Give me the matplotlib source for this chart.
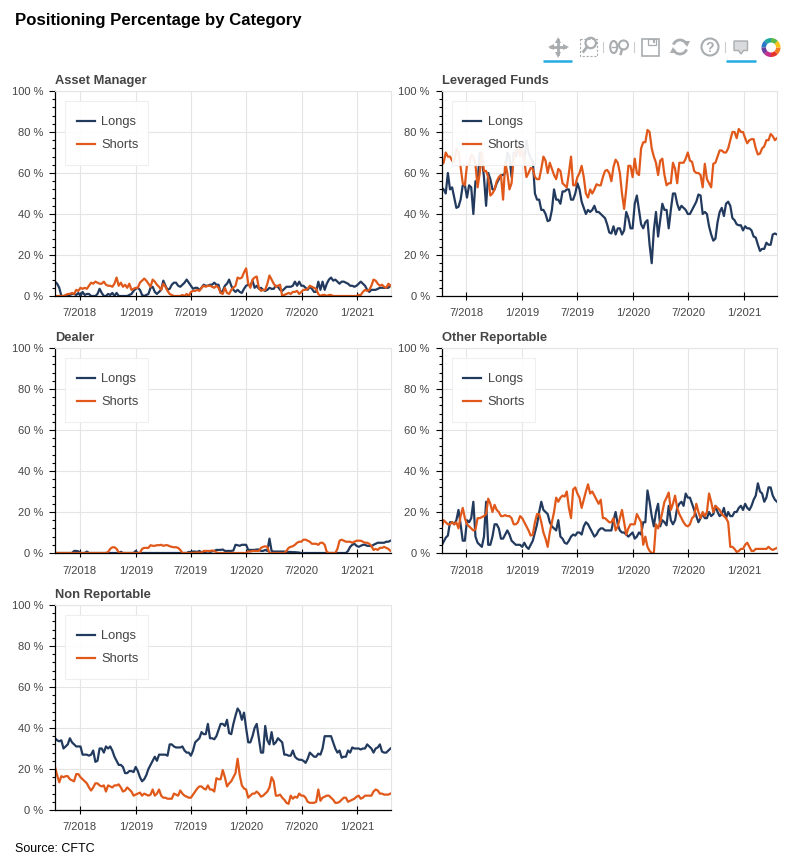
import matplotlib
matplotlib.use('Agg')
import matplotlib.pyplot as plt
import matplotlib.patches as mpatches
import pandas as pd

plt.rcParams['font.family'] = ['Liberation Sans', 'DejaVu Sans']

# weekly values, ten to a row
asset_longs = [
    7, 6, 4, 0, 0, 0, 0, 0.5, 1, 1,
    0.5, 1.5, 0, 2, 0.5, 1, 1, 0, 0, 0,
    1, 3.5, 1.5, 0, 0, 1, 0.5, 1.5, 0, 1.5,
    0, 0, 0, 0, 0, 0.5, 1, 2.5, 3.5, 4,
    3, 0.5, 0, 0.5, 1, 4, 4.5, 2, 1, 2,
    3, 7.5, 5, 3, 3.5, 5.5, 6.5, 6.5, 5, 4.5,
    5.5, 6.5, 8, 6.5, 5, 3.5, 4, 4, 3, 4,
    5.5, 5, 5, 5.5, 5.5, 6.5, 5.5, 5.5, 1.5, 2.5,
    5, 6, 8, 5, 3, 2, 3, 2, 1.5, 3.5,
    5, 5.5, 5, 7.5, 4, 5, 3.5, 4, 3, 2.5,
    3, 4, 3.5, 3.5, 5, 4.5, 3, 2.5, 3.5, 4.5,
    4.5, 4.5, 5, 7, 5, 7, 5, 5, 4, 3,
    4.5, 3.5, 2, 2, 7, 3, 7, 3, 6, 8,
    9, 7.5, 8, 7, 6, 7, 7, 6.5, 6, 5,
    5, 4.5, 5, 6, 7, 6, 5, 3, 2, 3,
    3, 3, 3.5, 4, 4, 4, 4, 4, 5]
asset_shorts = [
    0, 0, 0, 0, 0, 0.5, 1, 1, 1.5, 1,
    3, 2.5, 4, 3.5, 4, 3.5, 5, 6.5, 6, 7,
    6.5, 6, 6, 7, 5.5, 5, 5, 4.5, 6, 9,
    5, 6.5, 4.5, 5.5, 4, 6, 3, 3.5, 4, 4,
    6.5, 7.5, 8.5, 7.5, 6, 4.5, 8, 7, 5.5, 4.5,
    3, 6, 4.5, 2.5, 1, 0.5, 0, 0, 0, 0,
    0.5, 0, 1, 0, 2, 2.5, 2.5, 3, 2.5, 4,
    5, 4.5, 5, 5, 4.5, 4, 5, 4, 1.5, 1,
    4, 1.5, 1, 3, 4, 5, 9, 8.5, 9, 11.5,
    13.5, 6, 4, 8, 9, 9.5, 4, 2.5, 3, 3,
    6, 10, 8, 6, 4.5, 5, 5.5, 0, 0.5, 1,
    1.5, 1, 2, 2, 2.5, 1, 2, 3, 3, 3.5,
    5, 4.5, 4, 3.5, 1, 0, 0.5, 0.5, 0, 0.5,
    0.5, 0, 0, 0, 0, 0, 0, 0, 0, 0,
    0, 0, 0, 0.5, 0.5, 2, 3, 2.5, 3, 5,
    8, 7.5, 6, 5, 5.5, 4.5, 4, 6, 5]

leveraged_longs = [
    53, 52, 50, 60, 52, 53, 48, 43, 43.5, 47,
    54, 54, 48, 54, 53, 40, 56, 55, 70, 67,
    58, 44, 60, 57, 52, 52, 55, 57, 59, 59,
    60, 70, 68, 58, 70, 68, 72, 74, 70, 66,
    76, 70, 67, 66, 50, 47, 47, 42, 42, 40,
    36.5, 37, 42, 52, 47, 47, 45, 51, 51, 52,
    52, 47, 47, 50, 55, 52, 46, 43, 40, 42,
    41, 42, 44, 41, 41, 40, 39, 38, 35, 31,
    30.5, 34, 30, 33, 33, 30, 32, 41, 38, 33,
    33, 45, 49, 42, 35, 33, 36, 37, 25, 16,
    32, 41, 29, 37, 45, 42, 42, 33, 42, 50,
    50, 45, 42, 44, 43, 42, 40, 40, 42, 44,
    46, 49.5, 49, 40, 41, 40, 34, 30, 27, 28,
    36, 41, 43, 39, 45, 46, 44, 38, 37, 35,
    34.5, 34.5, 32, 34, 33, 33, 32, 29, 28.5, 25,
    22, 23, 23, 26, 25, 25, 30, 30.5, 30]
leveraged_shorts = [
    64, 65, 70, 68, 68, 66, 65, 72, 70, 63,
    55, 54, 64, 64, 69, 68, 64, 53, 60, 70,
    61, 61, 58, 49, 50, 52, 56, 58, 59, 47,
    65, 60, 52, 55, 68, 70, 73, 68, 72, 66,
    58, 60, 62.5, 62, 58, 57, 57, 62, 68, 66,
    60, 65, 62, 59, 57, 62, 61, 55, 54, 53,
    60, 68, 54, 54, 58, 60, 63.5, 58, 50, 48,
    52, 50, 52, 54.5, 54, 54, 58, 61, 61.5, 60,
    56, 63, 66.5, 65, 60, 50, 42.5, 52, 63.5, 63.5,
    58, 67, 60, 59, 72, 75, 75, 81, 80, 72,
    68, 65, 59, 66, 67, 59, 54, 55, 55, 65,
    62, 55, 65, 65, 65, 67, 70, 66, 65.5, 61,
    60, 60, 59, 53, 64.5, 57, 55, 53, 64.5, 65,
    68, 71, 71, 70, 70, 72, 76, 80, 80, 77,
    81.5, 80, 80, 77, 74.5, 76, 76.5, 76.5, 72, 69,
    69.5, 72, 73, 76, 76, 79, 78, 76, 77]

dealer_longs = [
    0, 0, 0, 0, 0, 0, 0, 0, 0, 1,
    1, 0.8, 0, 0, 0, 0.7, 0, 0, 0, 0,
    0, 0, 0, 0, 0, 0, 0, 0, 0, 0,
    0, 0.6, 0, 0, 0, 0, 0, 0, 1, 0,
    0, 0, 0, 0, 0, 0, 0, 0, 0, 0,
    0, 0, 0, 0, 0, 0, 0, 0, 0, 0,
    0, 0, 0, 0.5, 0.5, 0.7, 0.7, 0.5, 1, 0.3,
    0.3, 0.5, 0.8, 0.5, 0.8, 1, 1.5, 1.5, 1.5, 1.7,
    1, 1, 1, 1, 1.2, 4, 3.8, 3.5, 4, 4,
    4, 1.5, 1.5, 1.5, 1.5, 1.7, 1.7, 1, 1, 1.5,
    1, 7, 1, 0.7, 0.7, 0.7, 0.7, 0.7, 0.7, 0.5,
    0.5, 0.5, 0.4, 0.4, 0.3, 0.2, 0, 0, 0, 0,
    0, 0, 0, 0, 0, 0, 0, 0, 0, 0,
    0, 0, 0, 0, 0, 0, 0, 0, 1, 3,
    4, 4.5, 3.5, 3, 3.5, 4, 4, 3.5, 3.5, 3.3,
    4, 4.5, 5, 5, 5, 5, 5.5, 5.5, 6]
dealer_shorts = [
    0, 0, 0, 0, 0, 0, 0, 0, 0, 0,
    0, 0, 0, 0, 0, 0, 0, 0, 0, 0,
    0, 0, 0, 0, 0, 0.5, 2, 2.8, 2.8, 2,
    0.3, 0, 0, 0, 0, 0, 0, 0, 0, 0,
    0, 2, 2.5, 2.5, 2.5, 3.8, 3.5, 3.5, 3.8, 3.8,
    4, 3.5, 3.8, 3.8, 3.3, 3, 2.8, 2.8, 2.5, 1.5,
    0, 0, 0, 0, 0, 0, 0.2, 0.2, 0.2, 0.2,
    1, 1, 1, 1, 1.2, 1, 0.3, 0, 0, 0,
    0, 0, 0, 0, 0, 0, 0, 0, 0, 0,
    0, 0.7, 0.7, 1, 1, 1, 1, 2.5, 3, 3.3,
    3, 0, 0, 0, 0, 0, 0, 0, 0, 1,
    2.5, 3, 3.3, 4, 5, 5.5, 5.5, 6.5, 6.5, 6,
    5.5, 4.5, 4.5, 4.5, 4, 5, 5, 4, 0.5, 0,
    0, 0, 0, 2, 6, 6.5, 6, 5.5, 5.5, 5.5,
    5, 5.5, 6, 6, 6, 5.5, 5, 5, 4.5, 3.5,
    1.5, 2, 1.5, 2.5, 2.5, 3, 2.5, 2, 1]

other_longs = [
    3.5, 5.5, 7.5, 8.5, 15, 15, 14, 16, 21, 14,
    6, 6, 16, 15, 17, 25, 8, 5, 4, 3,
    8, 25, 4, 4, 8, 14, 14, 12, 7, 7,
    9, 11, 9, 6, 5, 4, 4, 4, 3, 5,
    3, 2, 4, 6, 10, 14, 20, 25, 21, 20,
    19, 15, 13, 12, 11, 16, 8, 7, 5, 4.5,
    6, 8, 9, 8.5, 10, 10, 9, 13, 15, 14,
    12, 10, 8, 9, 11, 12, 12, 11, 11, 11,
    11, 16, 20, 14, 11, 10, 10, 9, 8, 9,
    10, 7, 8, 10, 9, 15, 15, 30.5, 25, 18,
    13, 20, 24, 13, 16, 15, 13.5, 23, 16, 14,
    16, 22, 24, 25, 23, 29, 27, 27, 24, 21,
    18, 15, 17, 19, 17, 17, 20, 18, 19, 23,
    20, 18, 19, 22, 17, 20, 18, 18, 20, 20,
    22, 23, 21, 24, 22, 21, 23, 26, 28, 34,
    30, 29, 25, 27, 32, 32, 28, 26, 25]
other_shorts = [
    12, 16, 15, 14, 14, 15, 14, 15, 12, 18,
    22, 17, 14, 13, 12, 11, 11.5, 17, 17, 17.5,
    18, 19, 26.5, 24, 20, 23.5, 21, 20, 18, 18,
    18.5, 18, 18, 17, 14, 14, 15, 18, 17, 15,
    13, 11, 8.5, 9, 15, 19, 19, 15, 10, 7,
    3, 10, 15, 20, 27, 25, 27, 28, 27.5, 30,
    22, 17, 31, 32, 29, 27, 22, 26, 30, 33.5,
    29, 30, 28, 26, 24, 26, 17, 17, 16, 15,
    15, 17, 11, 13, 17, 21, 15, 9, 12, 14,
    14, 14, 19, 17, 15, 4, 8, 3, 1, 0,
    0, 14, 12, 15, 20, 25, 27, 29.5, 21, 24,
    28, 22, 19, 17, 15, 13.5, 13, 14, 17, 18,
    24, 20, 17, 20, 18, 20, 29, 25, 20, 23,
    22, 21, 19, 18, 17, 15, 3, 3, 2, 0.5,
    1, 2, 2, 4, 5, 3, 1, 1, 2, 2,
    2, 2, 2, 2, 3, 2, 1.5, 2, 2.5]

nonrep_longs = [
    35, 34, 33.5, 34, 30, 31, 32, 35, 33, 32,
    31, 31, 31, 27, 27, 27, 26.5, 27, 29, 23.5,
    24, 30, 30, 28, 31, 30, 31, 29, 26, 24,
    22, 22, 21, 18, 18, 19, 19, 18.5, 21, 19,
    16, 14, 15, 17, 20, 22, 24, 26, 24, 27,
    27, 27, 27, 26.5, 32, 32, 31, 30.5, 30.5, 30.5,
    31, 29, 28, 28, 26.5, 29, 33, 34, 35, 38,
    37, 37, 42, 35, 35, 34.5, 36, 39, 42, 42,
    41, 44, 37.5, 37, 42, 46, 49.5, 48, 44, 47.5,
    40, 33, 33, 36, 40, 42, 35, 28, 28, 41,
    34, 32, 38, 32, 33, 35, 34, 33, 27, 27,
    26.5, 26.5, 29, 26, 25, 24.5, 24.5, 24, 23, 25,
    28, 27, 26, 26, 27.5, 27, 30, 36, 36, 36,
    36, 33, 30, 28, 29, 25.5, 26, 26, 29, 28,
    30.5, 30, 30, 30, 29.5, 30, 30, 32, 31, 30,
    28, 30, 30.5, 32, 28.5, 28, 28, 29, 30]
nonrep_shorts = [
    21, 17, 13.5, 16.5, 16, 16.5, 16.5, 15, 14.5, 14,
    17.5, 17.5, 16, 15, 14, 13, 11, 9.5, 11, 13,
    13, 12, 11.5, 12, 9, 12, 11.5, 11, 12, 12,
    12.5, 11, 9, 9.5, 11, 10, 9, 7, 7.5, 8,
    8.5, 7, 8, 7.5, 7, 7.5, 10, 7, 8, 10,
    7, 6, 6, 5.5, 5.5, 5.5, 8, 7.5, 7, 9.5,
    8, 7, 6.5, 6, 6, 7.5, 9, 10.5, 11.5, 11.5,
    10.5, 10, 12, 10, 10, 9, 15.5, 15, 15, 19.5,
    16, 11.5, 13, 14, 16, 18, 25, 17, 12, 10.5,
    10, 6, 7, 8, 8, 9, 8, 6.5, 7, 8,
    9, 11, 16, 14, 7, 7, 7.5, 6, 5, 3.5,
    3, 7, 5.5, 6.5, 6, 8, 7, 7, 6, 4,
    3.5, 3.5, 3.5, 4, 10, 4.5, 6, 6.5, 7, 7,
    6, 5, 3.5, 3.5, 4, 5, 6, 6, 4, 4.5,
    5, 5.5, 6.5, 7, 5.5, 6, 7, 7, 7, 7,
    9, 10, 9.5, 8, 8, 7.5, 7.5, 7.5, 8]

titles = ['Asset Manager', 'Leveraged Funds', 'Dealer', 'Other Reportable', 'Non Reportable']
longs = [asset_longs, leveraged_longs, dealer_longs, other_longs, nonrep_longs]
shorts = [asset_shorts, leveraged_shorts, dealer_shorts, other_shorts, nonrep_shorts]
panel_pos = [(55, 91), (441.5, 91), (55, 348), (441.5, 348), (55, 605)]

dates = pd.date_range('2018-04-10', periods=len(asset_longs), freq='7D')
tick_dates = pd.to_datetime(['2018-07-01', '2019-01-01', '2019-07-01', '2020-01-01', '2020-07-01', '2021-01-01'])
tick_labels = ['7/2018', '1/2019', '7/2019', '1/2020', '7/2020', '1/2021']
y_ticks = [0, 20, 40, 60, 80, 100]

W, H = 785, 867
PW, PH = 335.5, 205
navy = '#223a5e'
orange = '#e0591a'
text_grey = '#444444'
grid_grey = '#e5e5e5'

fig = plt.figure(figsize=(W / 100, H / 100), dpi=100)

for title, lo, sh, (px, py) in zip(titles, longs, shorts, panel_pos):
    ax = fig.add_axes([px / W, 1 - (py + PH) / H, PW / W, PH / H])
    ax.plot(dates, lo, color=navy, lw=1.6, label='Longs', solid_joinstyle='round')
    ax.plot(dates, sh, color=orange, lw=1.6, label='Shorts', solid_joinstyle='round')
    ax.set_xlim(dates[0], dates[-1])
    ax.set_ylim(0, 100)
    ax.set_xticks(tick_dates)
    ax.set_xticklabels(tick_labels)
    ax.set_yticks(y_ticks)
    ax.set_yticklabels([f'{v} %' for v in y_ticks])
    ax.set_yticks(range(0, 101, 4), minor=True)
    ax.grid(True, which='major', color=grid_grey, lw=0.8)
    ax.set_axisbelow(True)
    ax.tick_params(axis='y', which='major', direction='out', length=4, width=0.8,
                   labelsize=8.0, labelcolor=text_grey, pad=4.5)
    ax.tick_params(axis='y', which='minor', direction='out', length=2.2, width=0.8)
    ax.tick_params(axis='x', which='major', direction='inout', length=6, width=0.8,
                   labelsize=8.0, labelcolor=text_grey, pad=6)
    for side in ['top', 'right']:
        ax.spines[side].set_color(grid_grey)
        ax.spines[side].set_linewidth(0.8)
    for side in ['left', 'bottom']:
        ax.spines[side].set_color('black')
        ax.spines[side].set_linewidth(0.9)
    fig.text(px / W, 1 - (py - 7) / H, title, fontsize=9.3, fontweight='bold', color=text_grey,
             ha='left', va='baseline')
    # legend box sits behind a frameless legend so the padding can match
    ax.add_patch(mpatches.Rectangle((10 / PW, 1 - 74 / PH), 83 / PW, 64 / PH, transform=ax.transAxes,
                                    fc='white', ec='#eeeeee', lw=0.8, alpha=0.92, zorder=4.5))
    ax.legend(loc='upper left', bbox_to_anchor=(21.5 / PW, 1 - 25 / PH), borderaxespad=0, borderpad=0,
              fontsize=9.3, labelcolor=text_grey, frameon=False, handlelength=1.43,
              handletextpad=0.47, labelspacing=0.87)

fig.text(15 / W, 1 - 24.5 / H, 'Positioning Percentage by Category', fontsize=12.1,
         fontweight='bold', color='black', ha='left', va='baseline')
fig.text(15 / W, 1 - 851.5 / H, 'Source: CFTC', fontsize=9, color='black', ha='left', va='baseline')

# toolbar icons, in pixel coordinates
tb = fig.add_axes([0, 0, 1, 1], facecolor='none', zorder=-1)
tb.set_xlim(0, W)
tb.set_ylim(H, 0)
tb.axis('off')
icon = '#a9adb0'

for x0, x1 in [(543, 572), (726, 756)]:
    tb.plot([x0, x1], [61, 61], color='#26aae1', lw=1.8, solid_capstyle='butt')
for x in [603, 634, 725]:
    tb.plot([x, x], [42, 52], color='#cccccc', lw=0.8)

# pan
tb.plot([551, 565], [47, 47], color=icon, lw=2)
tb.plot([558, 558], [40, 54], color=icon, lw=2)
for mx, my, mk in [(550.5, 47, '<'), (565.5, 47, '>'), (558, 39.5, '^'), (558, 54.5, 'v')]:
    tb.plot(mx, my, marker=mk, ms=5, color=icon, mew=0)

# box zoom
tb.add_patch(mpatches.Rectangle((579.5, 38.5), 17, 17, fill=False, ec=icon, lw=0.8, ls=(0, (2, 1.5))))
tb.add_patch(mpatches.Circle((590.7, 43), 5.2, fill=False, ec=icon, lw=1.6))
tb.plot([587, 583.5], [47, 51.5], color=icon, lw=2)

# wheel zoom
tb.add_patch(mpatches.Ellipse((613.7, 47), 7, 12, fill=False, ec=icon, lw=1.5))
tb.plot([611.5, 616], [47, 47], color=icon, lw=1)
tb.add_patch(mpatches.Circle((623.5, 45), 4.5, fill=False, ec=icon, lw=1.5))
tb.plot([622, 620.7], [49.5, 54], color=icon, lw=1.8)

# save
tb.add_patch(mpatches.Rectangle((641.5, 38.5), 17, 17, fill=False, ec=icon, lw=1.2))
tb.add_patch(mpatches.Rectangle((648, 38.5), 8, 6.5, fill=False, ec=icon, lw=0.9))
tb.add_patch(mpatches.Rectangle((652.5, 40), 2, 3, color=icon, lw=0))

# reset
tb.add_patch(mpatches.Arc((680, 47), 14, 14, theta1=200, theta2=340, ec=icon, lw=2))
tb.add_patch(mpatches.Arc((680, 47), 14, 14, theta1=20, theta2=160, ec=icon, lw=2))
tb.plot(687, 44, marker='v', ms=5, color=icon, mew=0)
tb.plot(673, 50, marker='^', ms=5, color=icon, mew=0)

# help
tb.add_patch(mpatches.Circle((710, 47), 8.5, fill=False, ec=icon, lw=1.5))
tb.text(710, 47.5, '?', fontsize=10, fontweight='bold', color=icon, ha='center', va='center')

# hover
tb.add_patch(mpatches.Polygon([(734, 41), (747.5, 41), (747.5, 50.5), (743.5, 50.5), (741, 54),
                               (738.5, 50.5), (734, 50.5)], closed=True, fc='#d8dadb', ec=icon, lw=1))

# bokeh logo
logo_colours = ['#e5352b', '#f47a20', '#f9c416', '#5cb947', '#1fa9a0', '#2b78c5', '#6a3fa0', '#c62f8c']
for k, c in enumerate(logo_colours):
    tb.add_patch(mpatches.Wedge((771, 47.5), 9.5, 90 - 45 * (k + 1), 90 - 45 * k, width=4.5, fc=c, lw=0))

fig.savefig('out.png', dpi=100)
